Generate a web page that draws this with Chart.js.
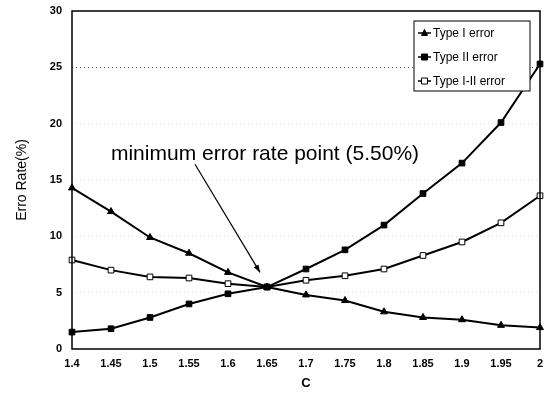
<!DOCTYPE html>
<html>
<head>
<meta charset="utf-8">
<script src="https://cdn.jsdelivr.net/npm/chart.js@4.4.1/dist/chart.umd.min.js"></script>
<style>
    html, body { margin: 0; padding: 0; background: #fff; }
    #wrap { width: 557px; height: 393px; }
</style>
</head>
<body>
<div id="wrap"><canvas id="errChart"></canvas></div>
<script>
// Données
const cValues = ['1.4', '1.45', '1.5', '1.55', '1.6', '1.65', '1.7', '1.75', '1.8', '1.85', '1.9', '1.95', '2'];
const typeOne = [14.3, 12.2, 9.9, 8.5, 6.8, 5.5, 4.8, 4.3, 3.3, 2.8, 2.6, 2.1, 1.9];
const typeTwo = [1.5, 1.8, 2.8, 4.0, 4.9, 5.5, 7.1, 8.8, 11.0, 13.8, 16.5, 20.1, 25.3];
const typeOneTwo = [7.9, 7.0, 6.4, 6.3, 5.8, 5.5, 6.1, 6.5, 7.1, 8.3, 9.5, 11.2, 13.6];
const yTicks = [0, 5, 10, 15, 20, 25, 30];
const seriesNames = ['Type I error', 'Type II error', 'Type I-II error'];

const tickFont = { family: 'Liberation Sans', size: 11, weight: 'bold' };

/**
 * Cadre, légende et annotation
 */
const decorPlugin = {
    id: 'decor',
    afterDraw(chart) {
        const ctx = chart.ctx;
        const a = chart.chartArea;
        const xs = chart.scales.x;
        const ys = chart.scales.y;
        ctx.save();

        // cadre
        ctx.strokeStyle = '#000';
        ctx.lineWidth = 1.5;
        ctx.strokeRect(a.left, a.top, a.right - a.left, a.bottom - a.top);

        // annotation
        ctx.fillStyle = '#000';
        ctx.font = '21px "Liberation Sans"';
        ctx.textAlign = 'center';
        ctx.textBaseline = 'middle';
        const tx = xs.getPixelForValue(5) - 2;
        const ty = ys.getPixelForValue(17.3);
        ctx.fillText('minimum error rate point (5.50%)', tx, ty);

        const x1 = xs.getPixelForValue(3) + 6, y1 = ys.getPixelForValue(16.4);
        const x2 = xs.getPixelForValue(4) + 32, y2 = ys.getPixelForValue(6.8);
        ctx.lineWidth = 1.2;
        ctx.beginPath();
        ctx.moveTo(x1, y1);
        ctx.lineTo(x2, y2);
        ctx.stroke();
        const ang = Math.atan2(y2 - y1, x2 - x1);
        ctx.beginPath();
        ctx.moveTo(x2, y2);
        ctx.lineTo(x2 - 8 * Math.cos(ang - 0.35), y2 - 8 * Math.sin(ang - 0.35));
        ctx.lineTo(x2 - 8 * Math.cos(ang + 0.35), y2 - 8 * Math.sin(ang + 0.35));
        ctx.closePath();
        ctx.fill();

        // légende
        const lx = 414, ly = 21, lw = 116, lh = 70;
        ctx.fillStyle = '#fff';
        ctx.fillRect(lx, ly, lw, lh);
        ctx.lineWidth = 1;
        ctx.strokeStyle = '#000';
        ctx.strokeRect(lx, ly, lw, lh);
        ctx.textAlign = 'left';
        ctx.font = '12px "Liberation Sans"';
        chart.data.datasets.forEach((ds, i) => {
            const cy = ly + 12 + i * 24;
            ctx.lineWidth = 1.5;
            ctx.beginPath();
            ctx.moveTo(lx + 4, cy);
            ctx.lineTo(lx + 17, cy);
            ctx.stroke();
            drawMarker(ctx, ds.pointStyle, ds.pointBackgroundColor, lx + 10.5, cy, 3);
            ctx.fillStyle = '#000';
            ctx.fillText(ds.label, lx + 19, cy + 1);
        });
        ctx.restore();
    }
};

function drawMarker(ctx, style, fill, x, y, r) {
    ctx.beginPath();
    if (style === 'triangle') {
        ctx.moveTo(x, y - r * 1.2);
        ctx.lineTo(x + r, y + r * 0.8);
        ctx.lineTo(x - r, y + r * 0.8);
        ctx.closePath();
    } else {
        ctx.rect(x - r, y - r, 2 * r, 2 * r);
    }
    ctx.fillStyle = fill;
    ctx.fill();
    ctx.lineWidth = 1;
    ctx.strokeStyle = '#000';
    ctx.stroke();
}

function makeSet(label, data, style, fill) {
    return {
        label: label,
        data: data,
        borderColor: '#000',
        borderWidth: 2,
        pointStyle: style,
        pointRadius: 4,
        pointBackgroundColor: fill,
        pointBorderColor: '#000',
        pointBorderWidth: 1,
        tension: 0,
        fill: false
    };
}

new Chart(document.getElementById('errChart'), {
    type: 'line',
    data: {
        labels: cValues,
        datasets: [
            makeSet(seriesNames[0], typeOne, 'triangle', '#000'),
            makeSet(seriesNames[1], typeTwo, 'rect', '#000'),
            makeSet(seriesNames[2], typeOneTwo, 'rect', '#fff')
        ]
    },
    options: {
        responsive: true,
        maintainAspectRatio: false,
        animation: false,
        layout: { padding: { left: 0, top: 11, right: 17, bottom: 0 } },
        plugins: {
            legend: { display: false },
            tooltip: { enabled: false }
        },
        scales: {
            x: {
                type: 'category',
                offset: false,
                afterFit: (s) => { s.height = 44; },
                ticks: { color: '#000', font: tickFont, padding: 0, maxRotation: 0, autoSkip: false },
                grid: { display: false },
                border: { display: false },
                title: { display: true, text: 'C', color: '#000', font: { family: 'Liberation Sans', size: 13, weight: 'bold' }, padding: { top: 2, bottom: 2 } }
            },
            y: {
                min: 0,
                max: 30,
                afterFit: (s) => { s.width = 72; s.paddingTop = 0; s.paddingBottom = 0; },
                afterBuildTicks: (s) => { s.ticks = yTicks.map(v => ({ value: v })); },
                ticks: { color: '#000', font: tickFont, padding: 10 },
                grid: {
                    drawTicks: false,
                    color: (c) => c.tick && c.tick.value === 25 ? '#555' : '#ddd',
                    lineWidth: (c) => c.tick && (c.tick.value === 0 || c.tick.value === 30) ? 0 : 1
                },
                border: { display: false, dash: [1, 3] },
                title: { display: true, text: 'Erro Rate(%)', color: '#000', font: { family: 'Liberation Sans', size: 14 }, padding: { top: 14, bottom: 0 } }
            }
        }
    },
    plugins: [decorPlugin]
});
</script>
</body>
</html>
